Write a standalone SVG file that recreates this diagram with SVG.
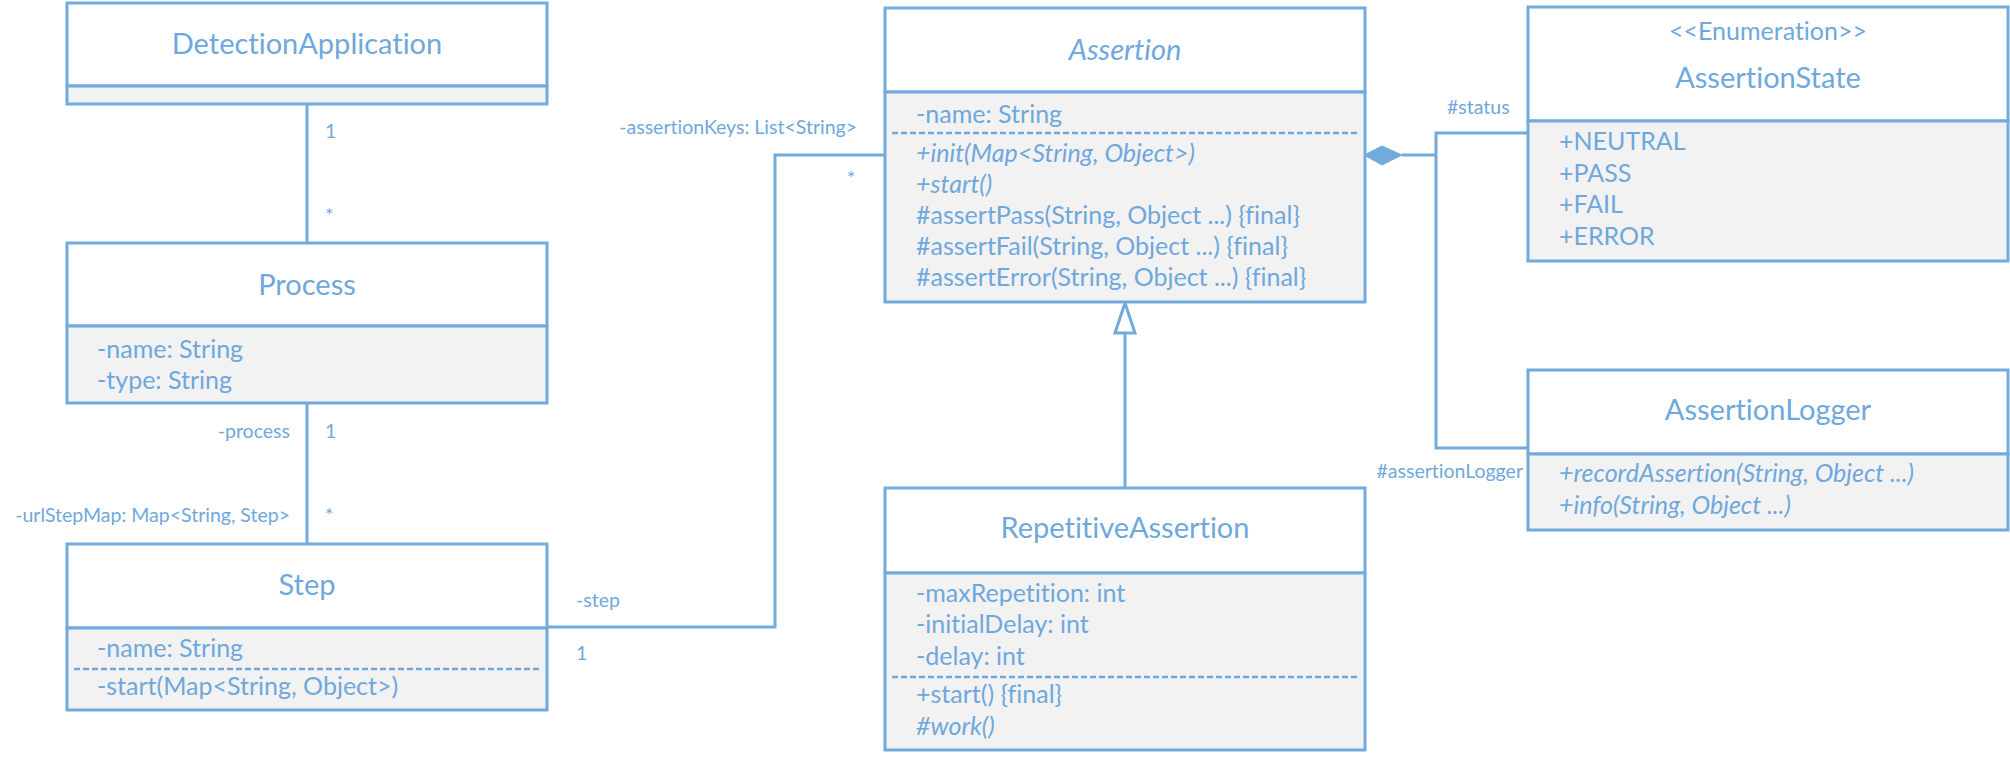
<svg xmlns="http://www.w3.org/2000/svg" width="2010" height="758" viewBox="0 0 2010 758">
<style>
text{font-family:Lato,"Open Sans",sans-serif;fill:#6fa8dc;font-variant-ligatures:none}
.t{font-size:29px;text-anchor:middle}
.m{font-size:25px}
.i{font-style:italic}
.l{font-size:19.5px}
.r{text-anchor:end}
.hd{fill:#ffffff;stroke:#72aadb;stroke-width:3}
.bd{fill:#f2f2f2;stroke:#72aadb;stroke-width:3}
.dash{stroke:#72aadb;stroke-width:2.5;stroke-dasharray:6 3;fill:none}
.c{stroke:#72aadb;stroke-width:3;fill:none}
</style>
<rect width="2010" height="758" fill="#ffffff"/>
<g id="connectors">
<line class="c" x1="307" y1="104" x2="307" y2="243"/>
<line class="c" x1="307" y1="403" x2="307" y2="544"/>
<polyline class="c" points="547,627 775,627 775,155 885,155"/>
<line class="c" x1="1125" y1="333" x2="1125" y2="488"/>
<polygon points="1125,303 1115,333 1135,333" fill="#ffffff" stroke="#72aadb" stroke-width="3"/>
<polygon points="1364,155 1382,146 1402,155 1382,165" fill="#72aadb" stroke="#72aadb" stroke-width="1"/>
<polyline class="c" points="1402,155 1436,155"/>
<polyline class="c" points="1528,133 1436,133 1436,448 1528,448"/>
<text class="l" x="325" y="138">1</text>
<text class="l" x="325" y="222">*</text>
<text class="l r" x="290" y="438">-process</text>
<text class="l" x="325" y="438">1</text>
<text class="l r" x="290" y="522">-urlStepMap: Map&lt;String, Step&gt;</text>
<text class="l" x="325" y="522">*</text>
<text class="l" x="576" y="607">-step</text>
<text class="l" x="576" y="660">1</text>
<text class="l r" x="857" y="134">-assertionKeys: List&lt;String&gt;</text>
<text class="l" x="847" y="185">*</text>
<text class="l" x="1447" y="114">#status</text>
<text class="l r" x="1523" y="478">#assertionLogger</text>
</g>
<g id="DetectionApplication">
<rect class="hd" x="67" y="3" width="480" height="83"/>
<rect class="bd" x="67" y="86" width="480" height="18"/>
<text class="t" x="307" y="54">DetectionApplication</text>
</g>
<g id="Process">
<rect class="hd" x="67" y="243" width="480" height="83"/>
<rect class="bd" x="67" y="326" width="480" height="77"/>
<text class="t" x="307" y="295">Process</text>
<text class="m" x="97" y="358">-name: String</text>
<text class="m" x="97" y="389">-type: String</text>
</g>
<g id="Step">
<rect class="hd" x="67" y="544" width="480" height="84"/>
<rect class="bd" x="67" y="628" width="480" height="82"/>
<text class="t" x="307" y="595">Step</text>
<text class="m" x="97" y="657">-name: String</text>
<line class="dash" x1="74" y1="669" x2="540" y2="669"/>
<text class="m" x="97" y="695">-start(Map&lt;String, Object&gt;)</text>
</g>
<g id="Assertion">
<rect class="hd" x="885" y="8" width="480" height="84"/>
<rect class="bd" x="885" y="92" width="480" height="210"/>
<text class="t i" x="1125" y="60">Assertion</text>
<text class="m" x="916" y="123">-name: String</text>
<line class="dash" x1="892" y1="133" x2="1358" y2="133"/>
<text class="m i" x="916" y="162">+init(Map&lt;String, Object&gt;)</text>
<text class="m i" x="916" y="193">+start()</text>
<text class="m" x="916" y="224">#assertPass(String, Object ...) {final}</text>
<text class="m" x="916" y="255">#assertFail(String, Object ...) {final}</text>
<text class="m" x="916" y="286">#assertError(String, Object ...) {final}</text>
</g>
<g id="RepetitiveAssertion">
<rect class="hd" x="885" y="488" width="480" height="85"/>
<rect class="bd" x="885" y="573" width="480" height="177"/>
<text class="t" x="1125" y="538">RepetitiveAssertion</text>
<text class="m" x="916" y="602">-maxRepetition: int</text>
<text class="m" x="916" y="633">-initialDelay: int</text>
<text class="m" x="916" y="665">-delay: int</text>
<line class="dash" x1="892" y1="677" x2="1358" y2="677"/>
<text class="m" x="916" y="703">+start() {final}</text>
<text class="m i" x="916" y="735">#work()</text>
</g>
<g id="AssertionState">
<rect class="hd" x="1528" y="7" width="480" height="114"/>
<rect class="bd" x="1528" y="121" width="480" height="140"/>
<text class="m" x="1768" y="40" text-anchor="middle">&lt;&lt;Enumeration&gt;&gt;</text>
<text class="t" x="1768" y="88">AssertionState</text>
<text class="m" x="1559" y="150">+NEUTRAL</text>
<text class="m" x="1559" y="182">+PASS</text>
<text class="m" x="1559" y="213">+FAIL</text>
<text class="m" x="1559" y="245">+ERROR</text>
</g>
<g id="AssertionLogger">
<rect class="hd" x="1528" y="370" width="480" height="84"/>
<rect class="bd" x="1528" y="454" width="480" height="76"/>
<text class="t" x="1768" y="420">AssertionLogger</text>
<text class="m i" x="1559" y="482">+recordAssertion(String, Object ...)</text>
<text class="m i" x="1559" y="514">+info(String, Object ...)</text>
</g>
</svg>
